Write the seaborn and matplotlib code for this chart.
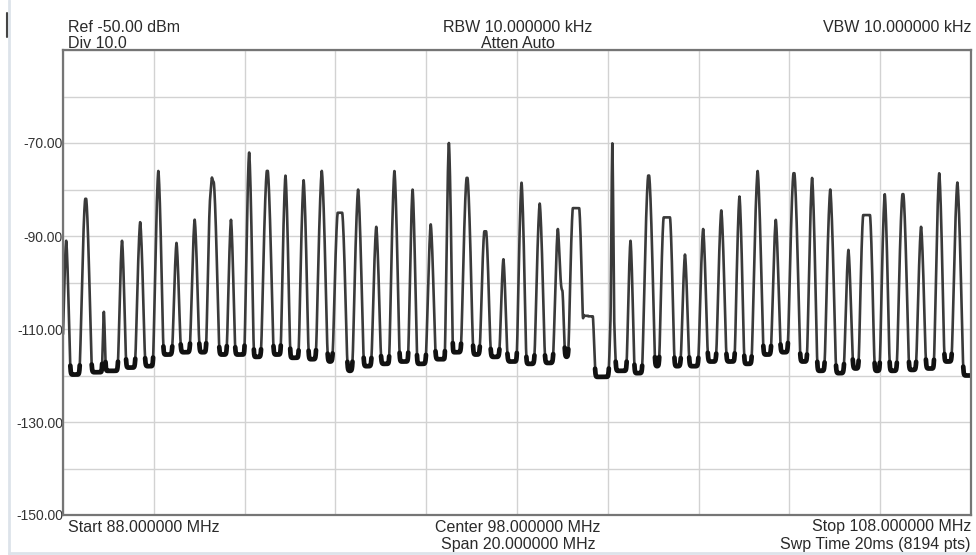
import numpy as np
import matplotlib

matplotlib.use("Agg")
import matplotlib.pyplot as plt
import seaborn as sns
from matplotlib.lines import Line2D

# FM stations (MHz, peak dBm)
station_freq = [88.07, 88.5, 88.9, 89.3, 89.7, 90.1, 90.5, 90.9, 91.3, 91.7,
                92.1, 92.5, 92.9, 93.3, 93.7, 94.1, 94.5, 94.9, 95.3, 95.7,
                96.1, 96.5, 96.9, 97.3, 97.7, 98.1, 98.5, 98.9, 99.3, 99.57,
                100.1, 100.5, 100.9, 101.3, 101.7, 102.1, 102.5, 102.9, 103.3, 103.7,
                104.1, 104.5, 104.9, 105.3, 105.7, 106.1, 106.5, 106.9, 107.3, 107.7]
station_peak = [-91, -82, -106.5, -91, -87, -76, -91.5, -86.5, -78.5, -86.5,
                -72, -76, -77, -78, -76, -85, -80, -88, -76, -80,
                -87.5, -70, -77.5, -89, -95, -78.5, -83, -88.5, -84, -107.5,
                -70, -91, -77, -86, -94, -88.5, -84.5, -81.5, -76, -86.5,
                -76.5, -77.5, -80, -93, -85.5, -81, -81, -88, -76.5, -78.5]
# half-width of the flat top (MHz)
station_top = [0.0, 0.01, 0.0, 0.0, 0.0, 0.0, 0.0, 0.0, 0.02, 0.0,
               0.0, 0.01, 0.0, 0.0, 0.0, 0.05, 0.0, 0.0, 0.0, 0.0,
               0.0, 0.0, 0.01, 0.02, 0.0, 0.0, 0.0, 0.0, 0.07, 0.1,
               0.0, 0.0, 0.01, 0.07, 0.0, 0.0, 0.0, 0.0, 0.0, 0.0,
               0.01, 0.0, 0.0, 0.0, 0.075, 0.0, 0.01, 0.0, 0.0, 0.0]
# skirt steepness relative to a typical channel
station_sharp = [1.2, 1, 2.2, 1.2, 1, 1.2, 1, 1, 1, 1.2,
                 1.5, 1, 1.3, 1.2, 1, 1, 1, 1, 1.2, 1.4,
                 1, 2, 1, 1, 1, 1.3, 1, 1, 1.2, 1.5,
                 6, 1.3, 1, 1.2, 1, 1, 1, 1.2, 1, 1,
                 1, 1.2, 1, 1, 1.2, 1.2, 1, 1, 1.2, 1]
# side lobes / shoulders
shoulder_freq = [91.26, 98.98, 100.1]
shoulder_peak = [-84, -102, -106]
shoulder_top = [0.02, 0.02, 0.025]

# noise floor: before first station, then after each station (dBm)
floor_level = [-118, -119.8, -119.3, -119, -118.3, -118, -115.5, -115, -115, -115.5,
               -115.5, -116, -115.5, -116.2, -116.5, -117, -119, -118, -117.5, -117,
               -117.5, -116.5, -115, -115.5, -116, -117, -117.5, -117.3, -116, -118.5,
               -120.3, -119, -119.5, -118, -118, -118, -117, -117, -117.5, -115.5,
               -115, -117, -119, -119.5, -118.5, -119, -119, -118.8, -118.5, -117,
               -120]

x_ticks = [88, 90, 92, 94, 96, 98, 100, 102, 104, 106, 108]
y_ticks = [-150, -140, -130, -120, -110, -100, -90, -80, -70, -60, -50]
y_tick_labels = ["-150.00", "", "-130.00", "", "-110.00", "", "-90.00", "", "-70.00", "", ""]

n_pts = 8194
k_skirt = 950  # dB per MHz^1.5

freq = np.linspace(88, 108, n_pts)
floor = np.array(floor_level)[np.searchsorted(station_freq, freq)]
power = 10 ** (floor / 10)
comps = zip(station_freq + shoulder_freq, station_peak + shoulder_peak,
            station_top + shoulder_top, station_sharp + [1.5] * len(shoulder_freq))
for f0, pk, hw, sh in comps:
    d = np.clip(np.abs(freq - f0) - hw, 0, None)
    power += 10 ** ((pk - k_skirt * sh * d ** 1.5) / 10)
trace = 10 * np.log10(power)

sns.set_style("white")
plt.rcParams["font.family"] = ["Liberation Sans", "DejaVu Sans"]

W, H = 976, 555
fig = plt.figure(figsize=(W / 100, H / 100), dpi=100)
ax = fig.add_axes([63 / W, 1 - 515 / H, 908 / W, 465 / H])

sns.lineplot(x=freq, y=trace, ax=ax, color="#3a3a3a", linewidth=1.9,
             estimator=None, sort=False)
near_floor = np.where(trace < floor + 2.0, trace, np.nan)
ax.plot(freq, near_floor, color="#111111", linewidth=3.4, solid_capstyle="round")

ax.set_xlim(88, 108)
ax.set_ylim(-150, -50)
ax.set_xticks(x_ticks)
ax.set_xticklabels([])
ax.set_yticks(y_ticks)
ax.set_yticklabels(y_tick_labels, fontsize=10, color="#333333")
ax.tick_params(length=0, pad=0)
ax.grid(True, color="#d2d2d2", linewidth=1.0)
ax.set_axisbelow(True)
for s in ax.spines.values():
    s.set_visible(True)
    s.set_color("#757575")
    s.set_linewidth(1.6)

txt = dict(fontsize=11.5, color="#2a2a2a", va="center")
fig.text(68 / W, 1 - 27 / H, "Ref -50.00 dBm", ha="left", **txt)
fig.text(68 / W, 1 - 43 / H, "Div 10.0", ha="left", **txt)
fig.text(518 / W, 1 - 27 / H, "RBW 10.000000 kHz", ha="center", **txt)
fig.text(518 / W, 1 - 43 / H, "Atten Auto", ha="center", **txt)
fig.text(971 / W, 1 - 27 / H, "VBW 10.000000 kHz", ha="right", **txt)
fig.text(68 / W, 1 - 528 / H, "Start 88.000000 MHz", ha="left", **txt)
fig.text(518 / W, 1 - 527 / H, "Center 98.000000 MHz", ha="center", **txt)
fig.text(518 / W, 1 - 545 / H, "Span 20.000000 MHz", ha="center", **txt)
fig.text(971 / W, 1 - 527 / H, "Stop 108.000000 MHz", ha="right", **txt)
fig.text(971 / W, 1 - 545 / H, "Swp Time 20ms (8194 pts)", ha="right", **txt)

# screenshot frame remnants
fig.add_artist(Line2D([9 / W, 9 / W], [0, 1], color="#dde3ea", linewidth=2))
fig.add_artist(Line2D([7 / W, 7 / W], [1 - 13 / H, 1 - 37 / H], color="#444444", linewidth=1.5))
fig.add_artist(Line2D([9 / W, 1], [1 - 553 / H, 1 - 553 / H], color="#dde3ea", linewidth=2))

fig.savefig("out.png", dpi=100)
